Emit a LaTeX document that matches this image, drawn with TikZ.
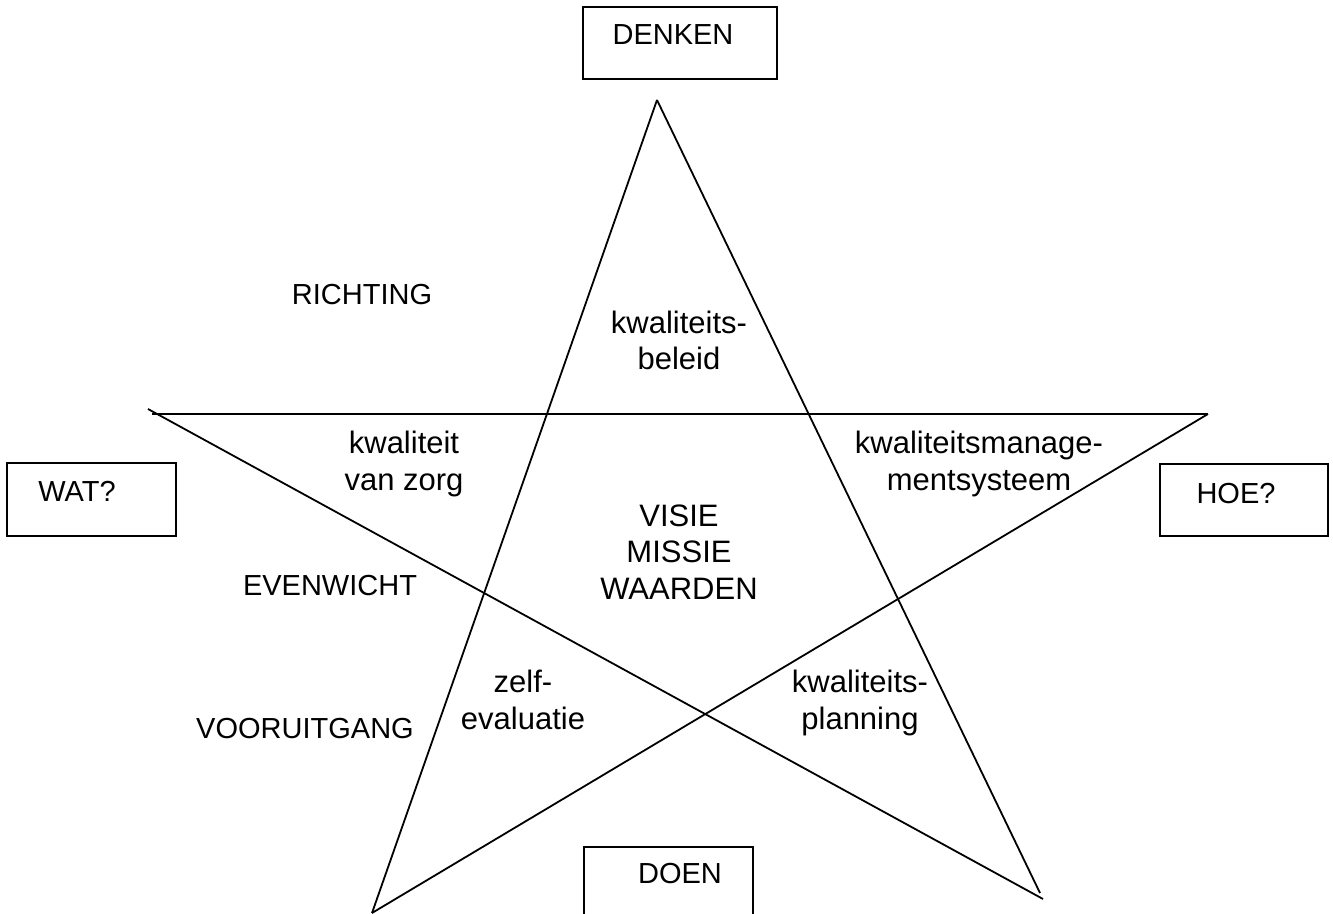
\documentclass[tikz,border=0pt]{standalone}
\usepackage{fontspec}
\setmainfont{Liberation Sans}
\begin{document}
\begin{tikzpicture}[x=0.5pt,y=-0.5pt,
  outertext/.style={font=\fontsize{14.5}{17}\selectfont, inner sep=0pt, anchor=base},
  innertext/.style={font=\fontsize{15.5}{18.25}\selectfont, inner sep=0pt, align=center, anchor=base},
  framebox/.style={draw, line width=1pt, inner sep=0pt},
  starline/.style={line width=0.9pt}]
\useasboundingbox (0,0) rectangle (1333,914);
\clip (0,0) rectangle (1333,914);
\fill[white] (0,0) rectangle (1333,914);
% star vertices
\coordinate (T) at (657,100);
\coordinate (LA) at (148,409);
\coordinate (LB) at (152,414);
\coordinate (R) at (1208,414);
\coordinate (BL) at (372,913);
\coordinate (BRa) at (1040,893);
\coordinate (BRb) at (1043,899);
% star lines
\draw[starline] (T) -- (BL);
\draw[starline] (T) -- (BRa);
\draw[starline] (LB) -- (R);
\draw[starline] (LA) -- (BRb);
\draw[starline] (R) -- (BL);
% boxes
\node[framebox, minimum width=97pt, minimum height=36pt] (denkenbox) at (680,43) {};
\node[framebox, minimum width=84.5pt, minimum height=36.5pt] (watbox) at (91.5,499.5) {};
\node[framebox, minimum width=84pt, minimum height=36pt] (hoebox) at (1244,500) {};
\node[framebox, minimum width=84.5pt, minimum height=36pt] (doenbox) at (668.5,883) {};
\node[outertext] (denken) at (673,45) {DENKEN};
\node[outertext] (wat) at (77,502) {WAT?};
\node[outertext] (hoe) at (1236,503) {HOE?};
\node[outertext] (doen) at (680,883) {DOEN};
% side labels
\node[outertext] (richting) at (362,305) {RICHTING};
\node[outertext] (evenwicht) at (330,595) {EVENWICHT};
\node[outertext] (vooruitgang) at (305,738) {VOORUITGANG};
% inner labels (base = baseline of last line)
\node[innertext] (beleid) at (679,370) {kwaliteits-\\beleid};
\node[innertext] (zorg) at (404,490) {kwaliteit\\van zorg};
\node[innertext] (kms) at (979,490) {kwaliteitsmanage-\\mentsysteem};
\node[innertext] (visie) at (679,599) {VISIE\\MISSIE\\WAARDEN};
\node[innertext] (zelf) at (523,729) {zelf-\\evaluatie};
\node[innertext] (planning) at (860,729) {kwaliteits-\\planning};
\end{tikzpicture}
\end{document}
